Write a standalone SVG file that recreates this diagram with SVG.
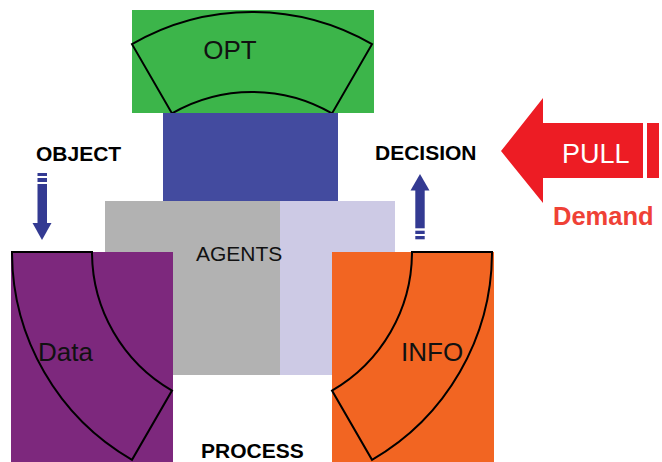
<svg xmlns="http://www.w3.org/2000/svg" width="662" height="462" viewBox="0 0 662 462">
<style>
.sector{stroke:#000;stroke-width:2;stroke-linejoin:miter}
.lbl{font-family:"Liberation Sans",Arial,sans-serif;fill:#111}
.bold{font-family:"Liberation Sans",Arial,sans-serif;font-weight:bold;fill:#000;font-size:21px}
.barrow{fill:#333A92}
</style>
<rect width="662" height="462" fill="#fff"/>
<g id="opt">
<rect x="132" y="10" width="242" height="103" fill="#3CB54A"/>
<path class="sector" fill="#3CB54A" d="M132 44.2 A240 240 0 0 1 372 44.2 L332 113.4 A160 160 0 0 0 172 113.4 Z"/>
<text class="lbl" x="230" y="59" font-size="26" text-anchor="middle">OPT</text>
</g>
<g id="core">
<rect x="163" y="113" width="175" height="88" fill="#434B9F"/>
</g>
<g id="agents">
<rect x="105" y="201" width="175" height="174" fill="#B2B2B2"/>
<rect x="280" y="201" width="115" height="174" fill="#CDCAE5"/>
<text class="lbl" x="196" y="261" font-size="21">AGENTS</text>
</g>
<g id="data">
<rect x="11" y="252" width="162" height="210" fill="#7D287D"/>
<path class="sector" fill="#7D287D" d="M12 252 L92 252 A160 160 0 0 0 172 390.6 L132 459.8 A240 240 0 0 1 12 252 Z"/>
<text class="lbl" x="38" y="361" font-size="26">Data</text>
</g>
<g id="info">
<rect x="332" y="252" width="162" height="210" fill="#F26522"/>
<path class="sector" fill="#F26522" d="M412 252 L492 252 A240 240 0 0 1 372 459.8 L332 390.6 A160 160 0 0 0 412 252 Z"/>
<text class="lbl" x="401" y="361" font-size="26">INFO</text>
</g>
<g id="object"><text class="bold" x="36" y="161">OBJECT</text></g>
<g id="decision"><text class="bold" x="375" y="160">DECISION</text></g>
<g id="process"><text class="bold" x="201" y="458">PROCESS</text></g>
<g id="pull">
<polygon fill="#ED1C24" points="501,151 543,98 543,123 643,123 643,178 543,178 543,203"/>
<rect x="647" y="123" width="12" height="55" fill="#ED1C24"/>
<text x="562" y="163" font-family="'Liberation Sans',Arial,sans-serif" font-size="27" fill="#fff">PULL</text>
</g>
<g id="demand"><text x="553" y="225" font-family="'Liberation Sans',Arial,sans-serif" font-weight="bold" font-size="25.5" fill="#EF4136">Demand</text></g>
<g id="connectors">
<g id="arrow-object">
<rect class="barrow" x="37.5" y="173" width="9.5" height="3"/>
<rect class="barrow" x="37.5" y="178" width="9.5" height="4"/>
<rect class="barrow" x="37.5" y="184" width="9.5" height="40"/>
<polygon class="barrow" points="32.5,223 51.5,223 42,240"/>
</g>
<g id="arrow-decision">
<polygon class="barrow" points="420,174 429.5,190.5 410.5,190.5"/>
<rect class="barrow" x="415.3" y="190" width="9.4" height="38.3"/>
<rect class="barrow" x="415.3" y="230.7" width="9.4" height="3.3"/>
<rect class="barrow" x="415.3" y="236" width="9.4" height="3.3"/>
</g>
</g>
</svg>
